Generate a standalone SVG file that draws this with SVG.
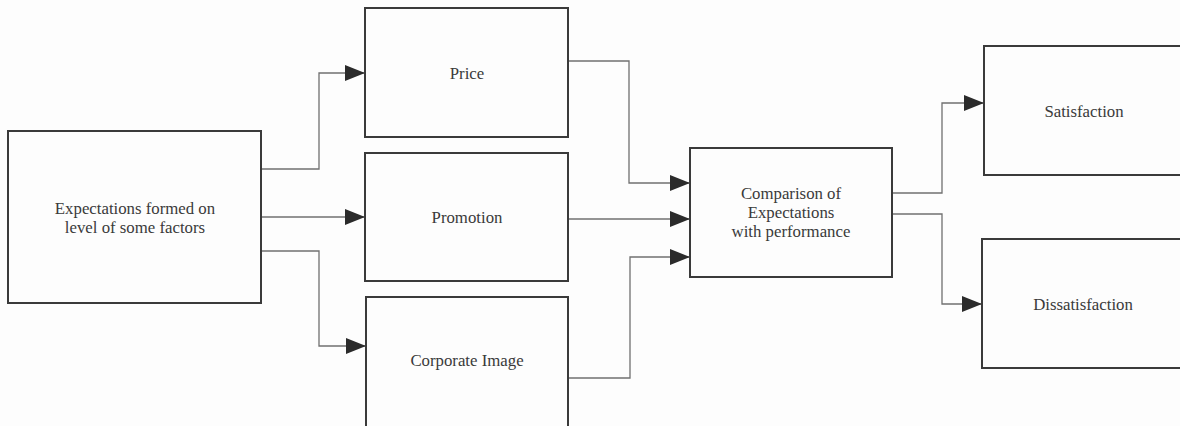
<svg xmlns="http://www.w3.org/2000/svg" width="1180" height="426" viewBox="0 0 1180 426">
<style>
.box{fill:#fdfdfd;stroke:#3a3a3a;stroke-width:2}
.lbl{font-family:'Liberation Serif','Times New Roman',serif;font-size:16.8px;fill:#3a3a3a;text-anchor:middle;dominant-baseline:central}
.con{fill:none;stroke:#707070;stroke-width:1.3;marker-end:url(#arr)}
</style>
<defs>
<marker id="arr" markerUnits="userSpaceOnUse" markerWidth="20" markerHeight="16" refX="20" refY="8" orient="auto">
<path d="M0,0 L20,8 L0,16 Z" fill="#2b2b2b"/>
</marker>
</defs>
<rect width="1180" height="426" fill="#fdfdfd"/>
<g id="connectors">
<path class="con" d="M261,169 H319 V73 H365"/>
<path class="con" d="M261,217 H365"/>
<path class="con" d="M261,251 H319 V346 H366"/>
<path class="con" d="M568,61 H629 V183 H690"/>
<path class="con" d="M568,219 H690"/>
<path class="con" d="M568,378 H630 V257 H690"/>
<path class="con" d="M892,193 H942 V103 H984"/>
<path class="con" d="M892,214 H942 V304 H982"/>
</g>
<g id="expectations">
<rect class="box" x="8" y="131" width="253" height="172"/>
<text class="lbl" x="135" y="208">Expectations formed on</text>
<text class="lbl" x="135" y="227">level of some factors</text>
</g>
<g id="price">
<rect class="box" x="365" y="8" width="203" height="129"/>
<text class="lbl" x="467" y="73">Price</text>
</g>
<g id="promotion">
<rect class="box" x="365" y="153" width="203" height="128"/>
<text class="lbl" x="467" y="217">Promotion</text>
</g>
<g id="corporate">
<rect class="box" x="366" y="297" width="202" height="140"/>
<text class="lbl" x="467" y="360">Corporate Image</text>
</g>
<g id="comparison">
<rect class="box" x="690" y="148" width="202" height="129"/>
<text class="lbl" x="791" y="193">Comparison of</text>
<text class="lbl" x="791" y="212">Expectations</text>
<text class="lbl" x="791" y="231">with performance</text>
</g>
<g id="satisfaction">
<rect class="box" x="984" y="46" width="202" height="129"/>
<text class="lbl" x="1084" y="111">Satisfaction</text>
</g>
<g id="dissatisfaction">
<rect class="box" x="982" y="239" width="204" height="129"/>
<text class="lbl" x="1083" y="304">Dissatisfaction</text>
</g>
</svg>
